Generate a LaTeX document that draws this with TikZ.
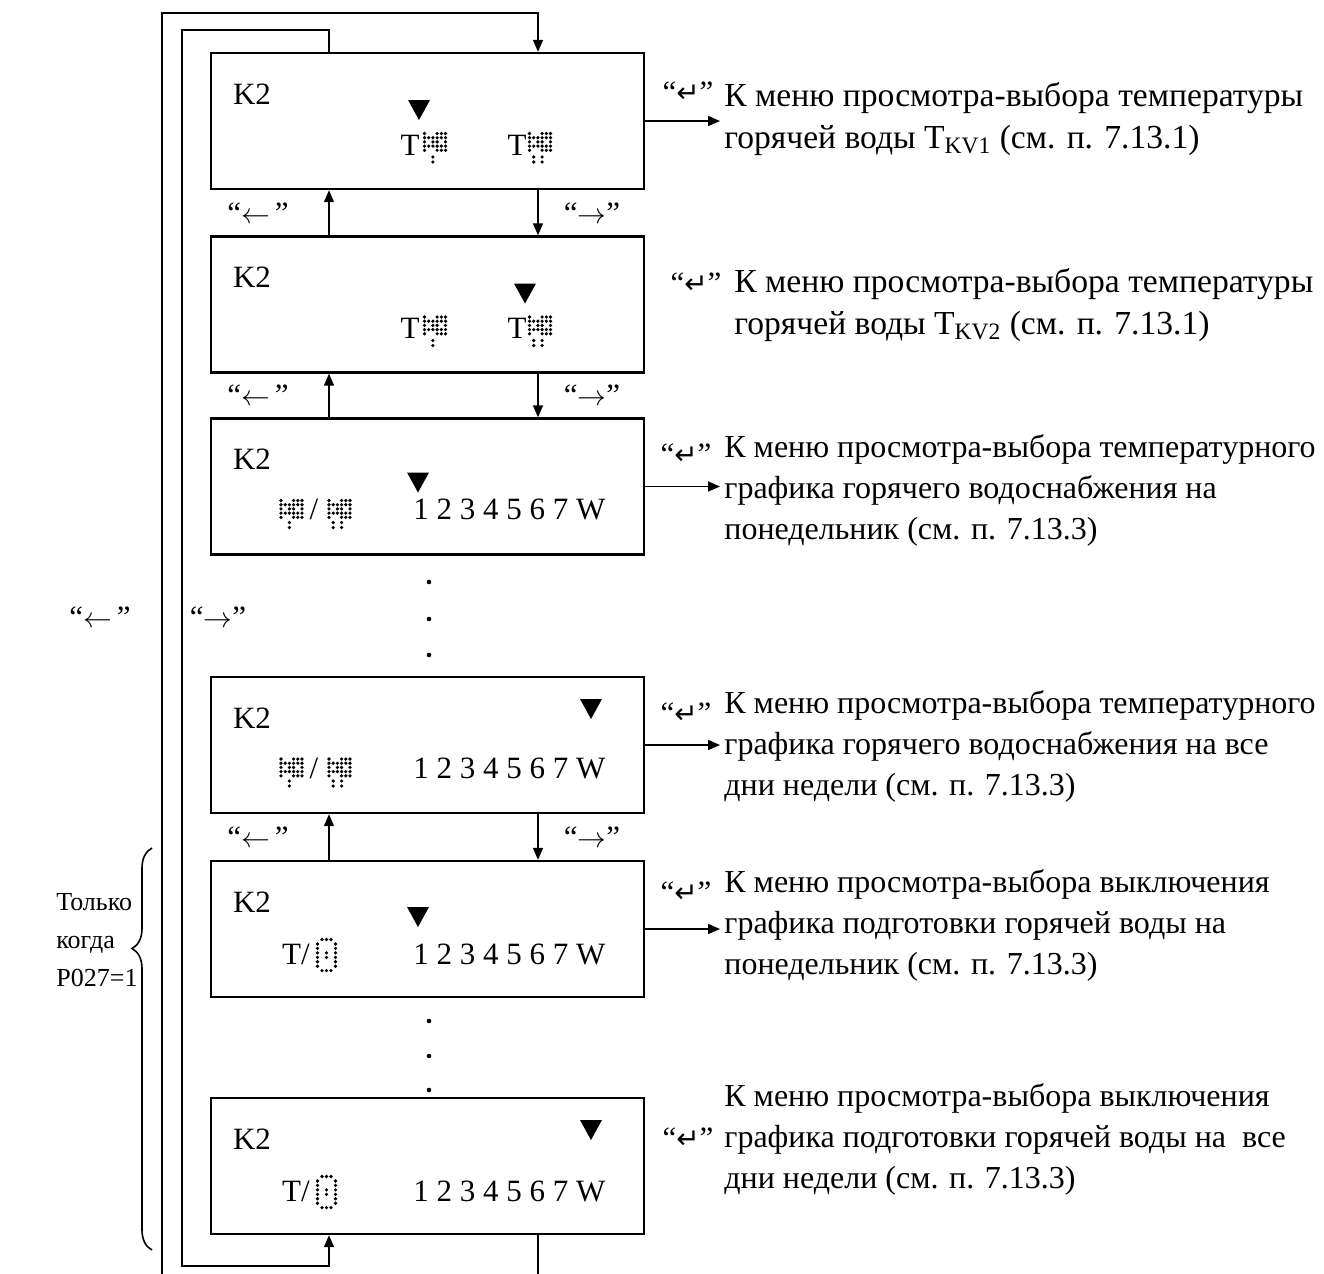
\documentclass[tikz,border=0pt]{standalone}
\usepackage{fontspec}
\setmainfont{Liberation Serif}
\newfontfamily\arrowfont{DejaVu Sans}
\usetikzlibrary{positioning, arrows.meta, decorations.pathreplacing}

\newcommand{\retkey}{“{\arrowfont\fontsize{14pt}{14pt}\selectfont ↵}”}
\newcommand{\lftkey}{“$\leftarrow$\,”}
\newcommand{\rgtkey}{“$\rightarrow$”}

\begin{document}
\begin{tikzpicture}[x=0.5pt, y=-0.5pt,
  every node/.style={font=\fontsize{15.5pt}{20.5pt}\selectfont, inner sep=0pt},
  screen/.style={draw, line width=1.2pt, minimum width=216.5pt, minimum height=68pt},
  link/.style={line width=0.8pt, -{Triangle[length=6pt,width=5pt]}},
  wire/.style={line width=0.8pt},
  note/.style={align=left, anchor=west, font=\fontsize{16pt}{20.5pt}\selectfont},
  bignote/.style={note, font=\fontsize{16.8pt}{21pt}\selectfont},
  keyname/.style={anchor=base},
  pics/pointer/.style={code={\fill (-11,-10) -- (11,-10) -- (0,10) -- cycle;}},
  pics/tapglyph/.style={code={
    \foreach \c/\r in {0/0,3/0,4/0,5/0, 0/1,1/1,2/1,3/1,4/1,5/1, 0/2,2/2,3/2,5/2,
                       0/3,1/3,2/3,3/3,4/3,5/3, 0/4,3/4,4/4,5/4}
      \fill (\c*4.2,\r*4.2) circle[radius=1.8];}},
  pics/subdots/.style={code={
    \foreach \c in {#1} {\fill (\c*4.2,0) circle[radius=1.8]; \fill (\c*4.2,5) circle[radius=1.8];}}},
  pics/zeroglyph/.style={code={
    \foreach \c/\r in {1/0,2/0,3/0, 0/1,0/2,0/3,0/4,0/5,0/6, 4/1,4/2,4/3,4/4,4/5,4/6,
                       1/7,2/7,3/7, 2/3,2/4}
      \fill (\c*4.5,\r*4.45) circle[radius=1.8];}}
]
\path[use as bounding box, clip] (0,0) rectangle (1324,1274);

% screens
\node[screen] (s1) at (427.5,121) {};
\node[screen] (s2) at (427.5,304.5) {};
\node[screen] (s3) at (427.5,486.5) {};
\node[screen] (s4) at (427.5,745) {};
\node[screen] (s5) at (427.5,929) {};
\node[screen] (s6) at (427.5,1166) {};

% screen 1 and 2: hot water temperatures
\begin{scope}[shift={(0,53)}]
  \node[keyname] at (252,51) {K2};
  \pic at (419,57) {pointer};
  \node[keyname] at (410,102) {T};
  \pic at (424.5,80.5) {tapglyph};
  \pic at (424.5,104) {subdots={2}};
  \node[keyname] at (517,102) {T};
  \pic at (529.5,80.5) {tapglyph};
  \pic at (529.5,104) {subdots={1,3}};
\end{scope}
\begin{scope}[shift={(0,236.5)}]
  \node[keyname] at (252,51) {K2};
  \pic at (525,57) {pointer};
  \node[keyname] at (410,102) {T};
  \pic at (424.5,80.5) {tapglyph};
  \pic at (424.5,104) {subdots={2}};
  \node[keyname] at (517,102) {T};
  \pic at (529.5,80.5) {tapglyph};
  \pic at (529.5,104) {subdots={1,3}};
\end{scope}

% screen 3 and 4: week schedules
\begin{scope}[shift={(0,418.5)}]
  \node[keyname] at (252,51) {K2};
  \pic at (418,64) {pointer};
  \pic at (281,82) {tapglyph};
  \pic at (281,104) {subdots={2}};
  \node[keyname] at (314,101) {/};
  \pic at (329,82) {tapglyph};
  \pic at (329,104) {subdots={1,3}};
  \node[keyname, anchor=base west] at (413,101) {1 2 3 4 5 6 7 W};
\end{scope}
\begin{scope}[shift={(0,677)}]
  \node[keyname] at (252,51) {K2};
  \pic at (591,32) {pointer};
  \pic at (281,82) {tapglyph};
  \pic at (281,104) {subdots={2}};
  \node[keyname] at (314,101) {/};
  \pic at (329,82) {tapglyph};
  \pic at (329,104) {subdots={1,3}};
  \node[keyname, anchor=base west] at (413,101) {1 2 3 4 5 6 7 W};
\end{scope}

% screen 5 and 6: switch-off schedules
\begin{scope}[shift={(0,861)}]
  \node[keyname] at (252,51) {K2};
  \pic at (418,56) {pointer};
  \node[keyname] at (296,103) {T/};
  \pic at (317.5,78.5) {zeroglyph};
  \node[keyname, anchor=base west] at (413,103) {1 2 3 4 5 6 7 W};
\end{scope}
\begin{scope}[shift={(0,1098)}]
  \node[keyname] at (252,51) {K2};
  \pic at (591,32) {pointer};
  \node[keyname] at (296,103) {T/};
  \pic at (317.5,78.5) {zeroglyph};
  \node[keyname, anchor=base west] at (413,103) {1 2 3 4 5 6 7 W};
\end{scope}

% dots
\foreach \y in {582,619,655,1021,1056,1090}
  \fill (429,\y) circle[radius=2.3];

% steps between screens
\coordinate (upx) at (329,0);
\coordinate (downx) at (538,0);
\draw[link] (s2.north -| upx) -- (s1.south -| upx);
\draw[link] (s1.south -| downx) -- (s2.north -| downx);
\draw[link] (s3.north -| upx) -- (s2.south -| upx);
\draw[link] (s2.south -| downx) -- (s3.north -| downx);
\draw[link] (s5.north -| upx) -- (s4.south -| upx);
\draw[link] (s4.south -| downx) -- (s5.north -| downx);
\node at (258,213) {\lftkey};
\node at (592,213) {\rgtkey};
\node at (258,395.5) {\lftkey};
\node at (592,395.5) {\rgtkey};
\node at (258,837) {\lftkey};
\node at (592,837) {\rgtkey};

% wrap-around loops
\coordinate (innertop) at (182,30);
\coordinate (innerbot) at (182,1266);
\coordinate (outertop) at (162,13);
\coordinate (outerbot) at (162,1300);
\draw[link] (s1.north -| upx) |- (innertop) -- (innerbot) -| (s6.south -| upx);
\draw[link] (s6.south -| downx) |- (outerbot) -- (outertop) -| (s1.north -| downx);
\node at (100,617) {\lftkey};
\node at (218,617) {\rgtkey};

% condition brace
\draw[wire, decorate, decoration={brace, amplitude=10pt, aspect=0.75}] (152,1250) -- (152,848);
\node[note, font=\fontsize{13pt}{19pt}\selectfont] (only) at (56,940) {Только\\когда\\P027=1};

% enter key exits
\coordinate (retx) at (720,0);
\draw[link] (s1.east) -- (s1.east -| retx);
\draw[link] (s3.east) -- (s3.east -| retx);
\draw[link] (s4.east) -- (s4.east -| retx);
\draw[link] (s5.east) -- (s5.east -| retx);
\node at (688,92) {\retkey};
\node at (696,283) {\retkey};
\node at (686,454) {\retkey};
\node at (686,713) {\retkey};
\node at (686,892) {\retkey};
\node at (688,1138) {\retkey};

\node[bignote] (n1) at (724,119) {К меню просмотра-выбора температуры\\горячей воды T\textsubscript{KV1} (см. п. 7.13.1)};
\node[bignote] (n2) at (734,305) {К меню просмотра-выбора температуры\\горячей воды T\textsubscript{KV2} (см. п. 7.13.1)};
\node[note] (n3) at (724,490) {К меню просмотра-выбора температурного\\графика горячего водоснабжения на\\понедельник (см. п. 7.13.3)};
\node[note] (n4) at (724,746) {К меню просмотра-выбора температурного\\графика горячего водоснабжения на все\\дни недели (см. п. 7.13.3)};
\node[note] (n5) at (724,925) {К меню просмотра-выбора выключения\\графика подготовки горячей воды на\\понедельник (см. п. 7.13.3)};
\node[note] (n6) at (724,1139) {К меню просмотра-выбора выключения\\графика подготовки горячей воды на\ \ все\\дни недели (см. п. 7.13.3)};
\end{tikzpicture}
\end{document}
